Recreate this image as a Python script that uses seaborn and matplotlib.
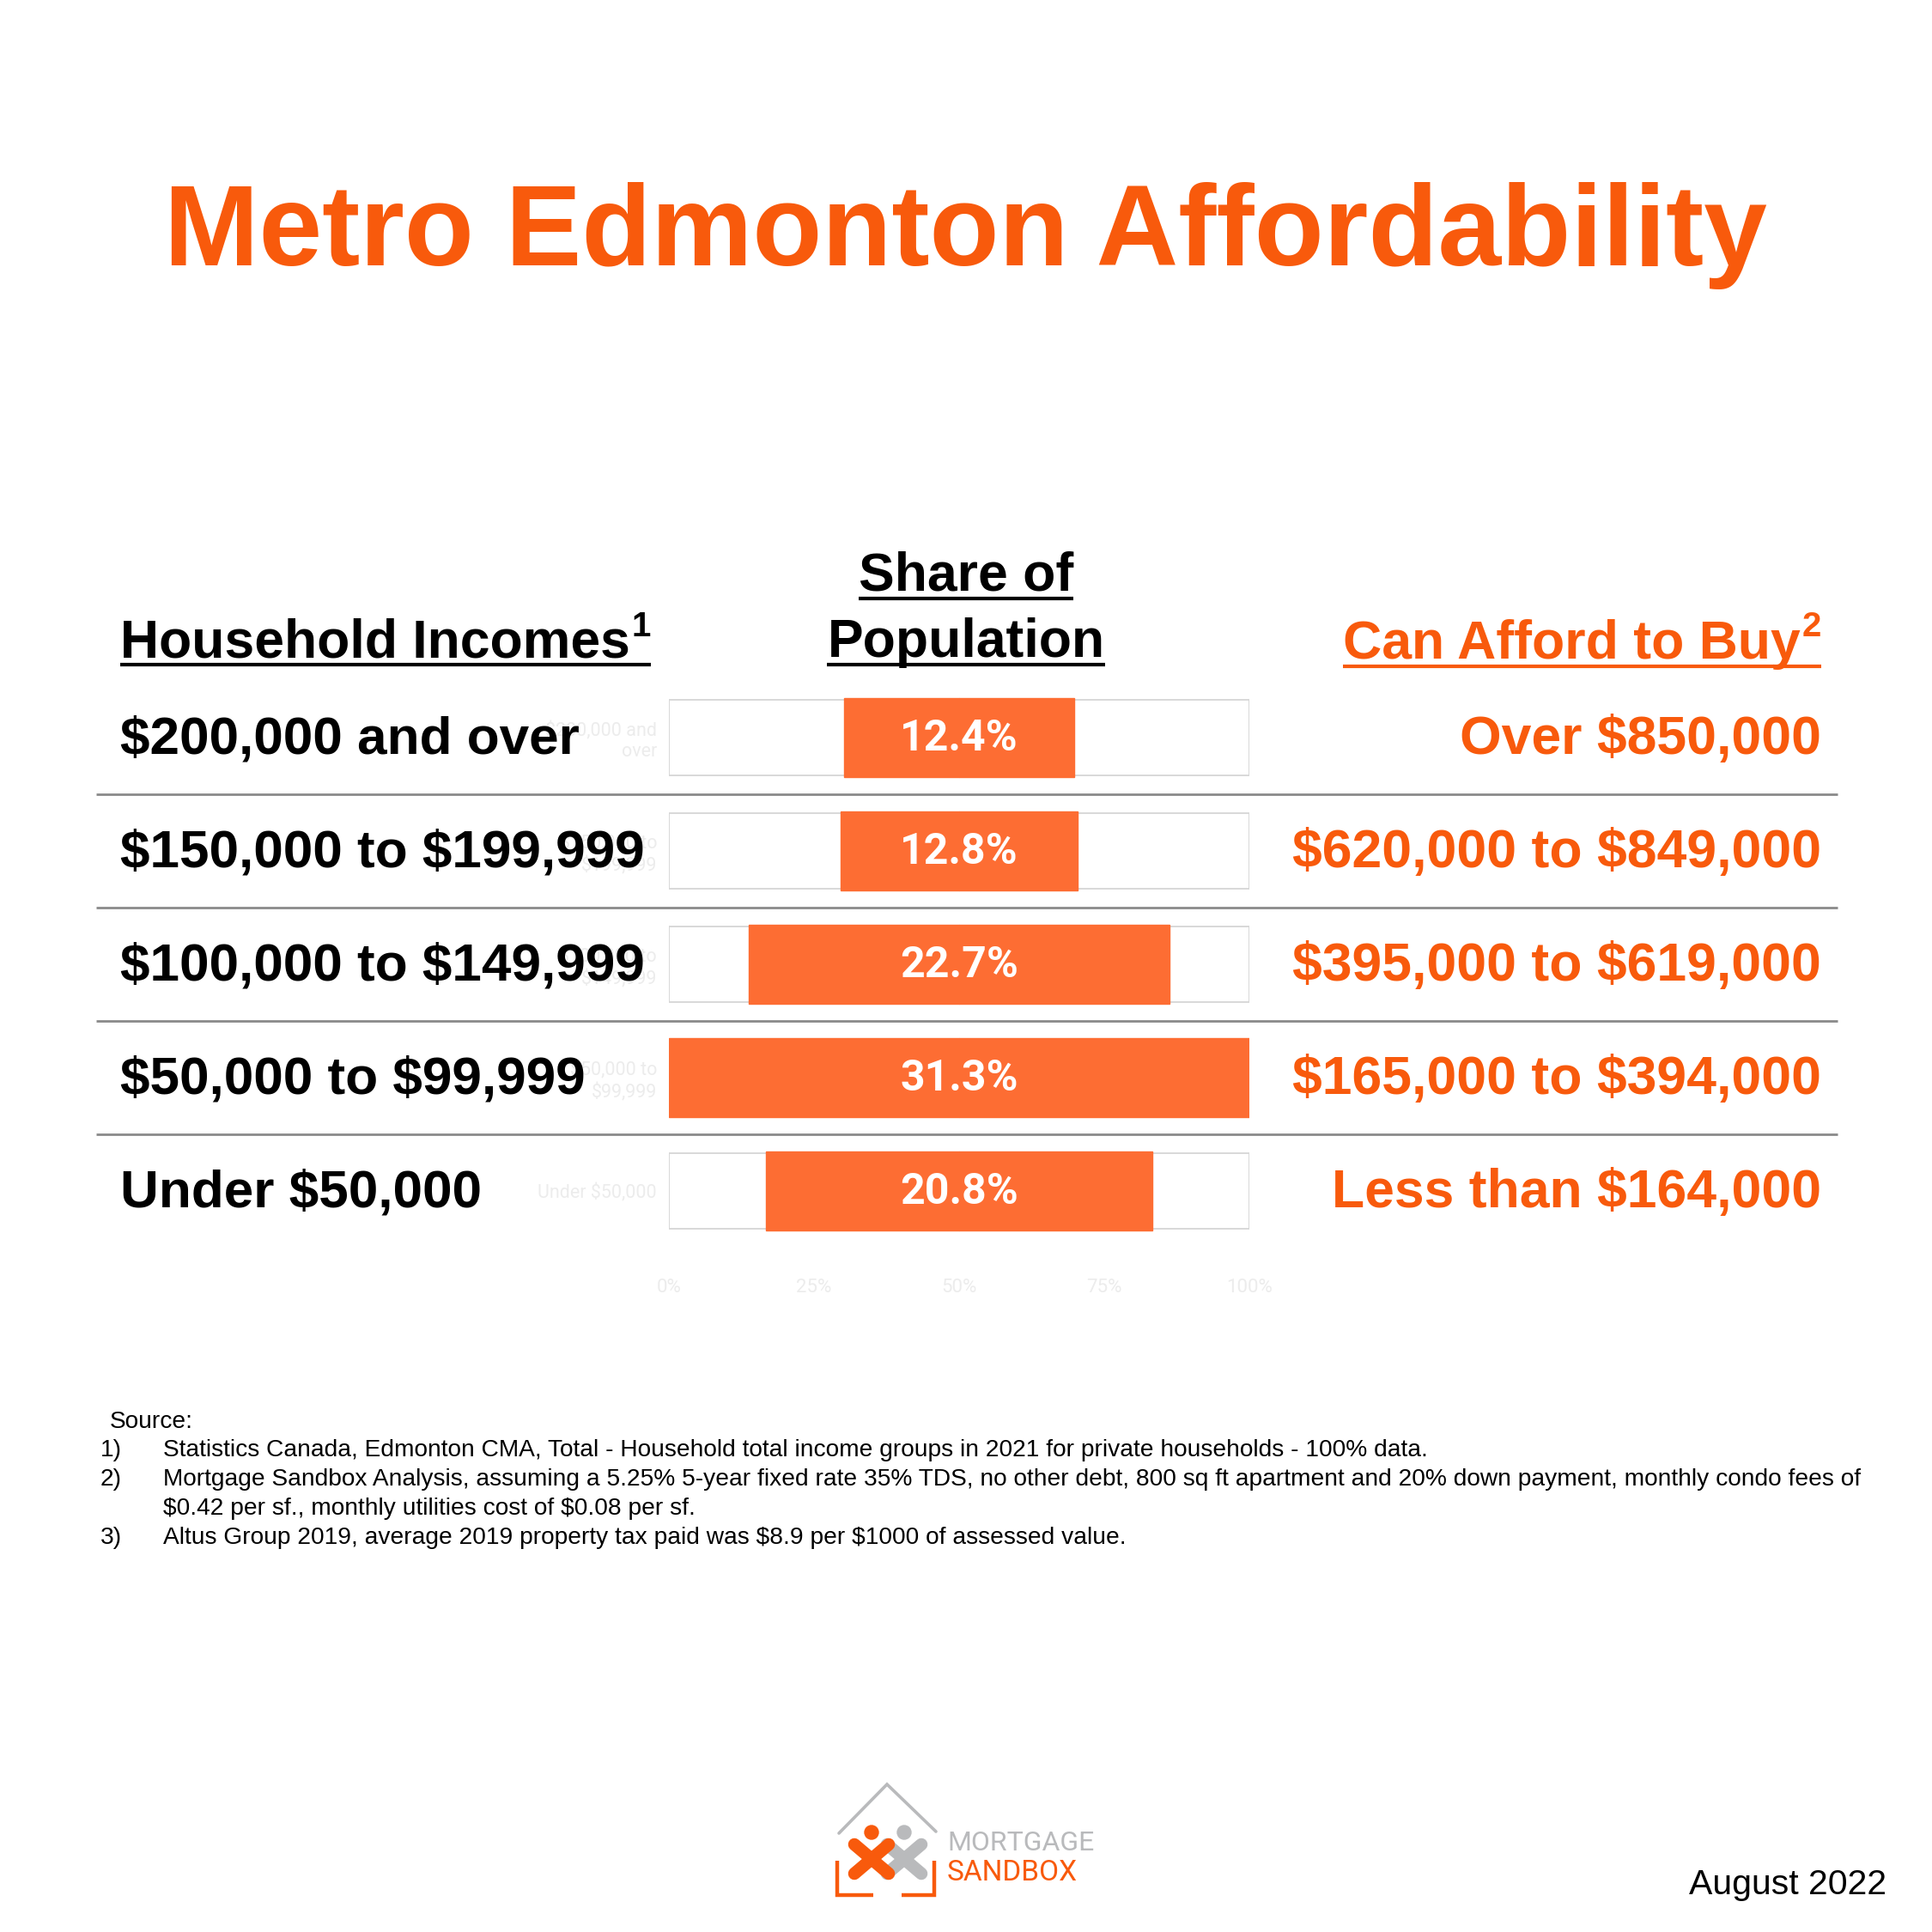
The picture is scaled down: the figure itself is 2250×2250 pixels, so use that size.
import pandas as pd
import seaborn as sns
import matplotlib.pyplot as plt
from matplotlib.transforms import blended_transform_factory
from matplotlib.patches import Circle

# --- data ---
incomes = ["$200,000 and over", "$150,000 to $199,999", "$100,000 to $149,999",
           "$50,000 to $99,999", "Under $50,000"]
tick_names = ["$200,000 and\nover", "$150,000 to\n$199,999", "$100,000 to\n$149,999",
              "$50,000 to\n$99,999", "Under $50,000"]
shares = [12.4, 12.8, 22.7, 31.3, 20.8]
afford = ["Over $850,000", "$620,000 to $849,000", "$395,000 to $619,000",
          "$165,000 to $394,000", "Less than $164,000"]
x_tick_pos = [-50, -25, 0, 25, 50]
x_tick_labels = ["0%", "25%", "50%", "75%", "100%"]
footnotes = [
    ("1)", "Statistics Canada, Edmonton CMA, Total - Household total income groups in 2021 for private households - 100% data."),
    ("2)", "Mortgage Sandbox Analysis, assuming a 5.25% 5-year fixed rate 35% TDS, no other debt, 800 sq ft apartment and 20% down payment, monthly condo fees of"),
    ("", "$0.42 per sf., monthly utilities cost of $0.08 per sf."),
    ("3)", "Altus Group 2019, average 2019 property tax paid was $8.9 per $1000 of assessed value."),
]

ORANGE = "#F85A0C"
BAR = "#FD6D33"
GREY_LOGO = "#B9BABC"
FAINT = "#ececec"

sns.set_theme(style="white")
plt.rcParams["font.family"] = ["Liberation Sans", "DejaVu Sans"]
plt.rcParams["text.parse_math"] = False  # dollar signs are plain text

# funnel: widths relative to the largest group, drawn as two halves around 0
rel = [s / max(shares) * 100 for s in shares]
df = pd.DataFrame({"group": tick_names, "share": shares,
                   "right": [r / 2 for r in rel], "left": [-r / 2 for r in rel]})

fig = plt.figure(figsize=(22.5, 22.5), dpi=100)
ax = fig.add_axes([779 / 2250, 1 - 1453 / 2250, 676 / 2250, 660 / 2250], zorder=0)
# overlay in pixel units for all the slide text, drawn above the chart
bg = fig.add_axes([0, 0, 1, 1], zorder=1)
bg.set_xlim(0, 2250)
bg.set_ylim(2250, 0)
bg.axis("off")
bg.set_autoscale_on(False)

for col in ["right", "left"]:
    sns.barplot(data=df, x=col, y="group", color=BAR, saturation=1, width=0.7,
                errorbar=None, edgecolor=BAR, linewidth=1, ax=ax)
# white track behind every bar
ax.barh(range(len(shares)), 100, left=-50, height=0.66, color="white",
        edgecolor="#d6d6d6", linewidth=1.3, zorder=0.5)
ax.set_xlim(-50, 50)
ax.set_ylim(len(shares) - 0.5, -0.5)
ax.set_xlabel("")
ax.set_ylabel("")
sns.despine(ax=ax, left=True, bottom=True)
ax.set_xticks(x_tick_pos, x_tick_labels)
ax.tick_params(axis="x", length=0, pad=26, labelsize=16, labelcolor=FAINT)
ax.tick_params(axis="y", length=0, pad=10, labelsize=15.5, labelcolor=FAINT)
for lab in ax.get_xticklabels() + ax.get_yticklabels():
    lab.set_fontfamily("Roboto")
for lab in ax.get_yticklabels():
    lab.set_multialignment("right")

for i, s in enumerate(shares):
    ax.text(0, i + 0.11, f"{s}%", ha="center", va="baseline", color="white",
            fontsize=36, fontweight="bold", family="Roboto")

# rows: labels and separators
row_tr = blended_transform_factory(bg.transData, ax.transData)
for i, (inc, aff) in enumerate(zip(incomes, afford)):
    bg.text(140, i + 0.142, inc, transform=row_tr, ha="left", va="baseline",
            fontsize=44.7, fontweight="bold", color="black")
    bg.text(2121, i + 0.142, aff, transform=row_tr, ha="right", va="baseline",
            fontsize=45, fontweight="bold", color=ORANGE)
for i in range(len(shares) - 1):
    bg.plot([112, 2140], [i + 0.5, i + 0.5], transform=row_tr, color="#8a8a8a",
            lw=2, solid_capstyle="butt")

# title
bg.text(1124, 309, "Metro Edmonton Affordability", ha="center", va="baseline",
        fontsize=95.5, fontweight="bold", color=ORANGE)

# column headers
h1 = bg.text(140, 765, "Household Incomes", ha="left", va="baseline",
             fontsize=45, fontweight="bold", color="black")
h2a = bg.text(1125, 688, "Share of", ha="center", va="baseline",
              fontsize=45, fontweight="bold", color="black")
h2b = bg.text(1125, 765, "Population", ha="center", va="baseline",
              fontsize=45, fontweight="bold", color="black")
s3 = bg.text(2121, 741, "2", ha="right", va="baseline", fontsize=29,
             fontweight="bold", color=ORANGE)
fig.canvas.draw()
inv = bg.transData.inverted()


def xspan(t):
    bb = t.get_window_extent()
    (x0, _), (x1, _) = inv.transform([[bb.x0, bb.y0], [bb.x1, bb.y1]])
    return x0, x1


sx0, _ = xspan(s3)
h3 = bg.text(sx0 - 2, 767, "Can Afford to Buy", ha="right", va="baseline",
             fontsize=45, fontweight="bold", color=ORANGE)
fig.canvas.draw()
x0, x1 = xspan(h1)
s1 = bg.text(x1 + 2, 741, "1", ha="left", va="baseline", fontsize=29,
             fontweight="bold", color="black")
fig.canvas.draw()
_, s1x1 = xspan(s1)
bg.plot([x0, s1x1], [774, 774], color="black", lw=3, solid_capstyle="butt")
for t in [h2a, h2b]:
    a, b = xspan(t)
    y = t.get_position()[1] + 9
    bg.plot([a, b], [y, y], color="black", lw=3, solid_capstyle="butt")
a, _ = xspan(h3)
bg.plot([a, 2121], [776, 776], color=ORANGE, lw=3, solid_capstyle="butt")

# sources
bg.text(128, 1656, "Source:", ha="left", va="center", fontsize=20.25, color="black")
for k, (num, line) in enumerate(footnotes):
    y = 1689 + k * 34
    if num:
        bg.text(117, y, num, ha="left", va="center", fontsize=20.25, color="black")
    bg.text(190, y, line, ha="left", va="center", fontsize=20.25, color="black")

bg.text(2197, 2206, "August 2022", ha="right", va="baseline", fontsize=29.5,
        color="black")

# logo
bg.plot([977, 1033, 1090], [2135, 2078, 2133], color=GREY_LOGO, lw=2.6,
        solid_joinstyle="miter")
bg.plot([975, 975, 1017], [2167, 2207, 2207], color=ORANGE, lw=3.2,
        solid_joinstyle="miter", solid_capstyle="butt")
bg.plot([1050, 1088, 1088], [2207, 2207, 2167], color=ORANGE, lw=3.2,
        solid_joinstyle="miter", solid_capstyle="butt")
for cx, colr in [(1053, GREY_LOGO), (1015, ORANGE)]:
    bg.plot([cx - 20, cx + 20], [2148, 2182], color=colr, lw=10.5,
            solid_capstyle="round")
    bg.plot([cx + 20, cx - 20], [2148, 2182], color=colr, lw=10.5,
            solid_capstyle="round")
    bg.add_patch(Circle((cx, 2134), 8, color=colr))
bg.text(1103, 2155, "MORTGAGE", ha="left", va="baseline", fontsize=23,
        family="Roboto", color=GREY_LOGO)
bg.text(1103, 2190, "SANDBOX", ha="left", va="baseline", fontsize=24,
        family="Roboto", color=ORANGE)

fig.savefig("out.png", dpi=100, facecolor="white")
